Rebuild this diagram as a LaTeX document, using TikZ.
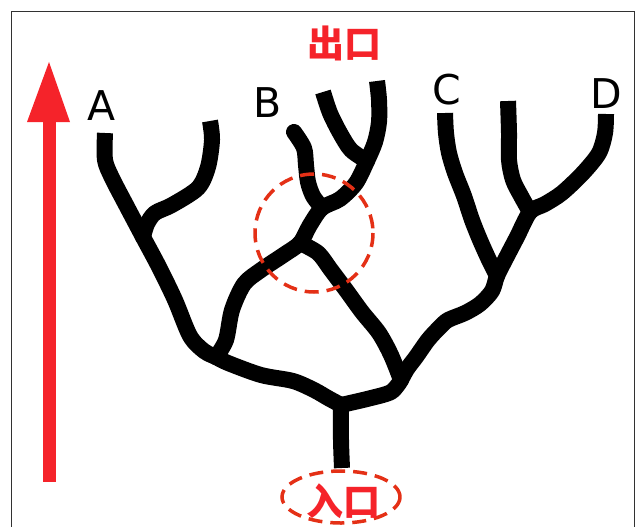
\documentclass[tikz,border=0pt]{standalone}
\usepackage{fontspec}
\setmainfont{DejaVu Sans}
\newfontfamily\cjk{Noto Sans CJK SC}
\begin{document}
\begin{tikzpicture}[x=1pt,y=-1pt,
  branch/.style={line width=16pt,line join=round,line cap=butt},
  marker/.style={draw=ringred,dashed,line width=3.5pt,dash pattern=on 14pt off 8pt},
  letter/.style={inner sep=0pt,font=\fontsize{41}{41}\selectfont},
  gate/.style={inner sep=0pt,text=arrowred,font=\cjk\bfseries\fontsize{37}{37}\selectfont}]
\definecolor{arrowred}{RGB}{245,35,42}
\definecolor{ringred}{RGB}{228,48,22}
\definecolor{framegray}{RGB}{50,50,50}
\useasboundingbox (0,0) rectangle (637,527);
% frame, open at the bottom
\draw[framegray,line width=1.6pt] (11.5,540) -- (11.5,11.5) -- (634.5,11.5) -- (634.5,540);

% upward arrow
\fill[arrowred] (43,482) rectangle (56,120);
\fill[arrowred] (49,62) -- (27,122) -- (70,122) -- cycle;

% junctions
\coordinate (root) at (342,468);
\coordinate (jc) at (341,405);
\coordinate (jl) at (216,357);
\coordinate (jr) at (401,380);
\coordinate (ja) at (143,237);
\coordinate (jx) at (300,243);
\coordinate (jb) at (322,208);
\coordinate (jt) at (367,161);
\coordinate (jd) at (530,212);
\coordinate (jcd) at (497,276);

% trunk and base
\draw[branch] plot[smooth] coordinates {(root) (341,440) (jc)};
\draw[branch] plot[smooth] coordinates {(jl) (228,363) (261,375) (293,381) (314,390) (328,398) (jc)};
\draw[branch] plot[smooth] coordinates {(jc) (367,399) (391,392) (jr)};

% left part, towards A
\draw[branch] plot[smooth] coordinates {(105,133) (105,160) (112,178) (125,203) (ja) (159,267) (175,300) (190,336) (204,351) (jl)};
\draw[branch] plot[smooth] coordinates {(210,121) (212,140) (208,167) (198,188) (172,205) (155,213) (147,224) (ja)};

% middle part, towards B and the exit
\draw[branch] plot[smooth] coordinates {(jl) (226,340) (232,310) (244,284) (261,270) (285,254) (jx) (310,225) (jb) (340,199) (356,183) (jt) (375,142) (379,122) (379,100) (377,81)};
\draw[branch] plot[smooth] coordinates {(323,92) (330,113) (340,133) (351,150) (jt)};
\draw[branch,line cap=round] plot[smooth] coordinates {(294,132) (304,148) (306,165) (308,182) (313,196) (jb)};
\draw[branch] plot[smooth] coordinates {(jx) (318,253) (331,270) (346,290) (362,312) (379,333) (391,355) (jr)};

% right part, towards C and D
\draw[branch] plot[smooth] coordinates {(445,113) (446,133) (449,153) (455,173) (464,196) (472,220) (480,240) (489,260) (jcd)};
\draw[branch] plot[smooth] coordinates {(508,101) (509,133) (509,160) (513,180) (521,196) (jd)};
\draw[branch] plot[smooth] coordinates {(606,114) (605,133) (599,153) (583,173) (562,193) (545,204) (jd) (517,237) (505,260) (jcd) (492,291) (480,304) (465,313) (448,320) (439,328) (428,340) (416,357) (407,369) (jr)};

% fill the joints where branches meet
\foreach \j in {jc,jl,jr,ja,jx,jb,jt,jd,jcd}
  \fill (\j) circle[radius=8];

% dashed markers
\draw[marker] (314,233) circle[radius=59];
\draw[marker] (341,497) ellipse[x radius=59,y radius=26];

% labels
\node[letter] (la) at (102,105.5) {A};
\node[letter] (lb) at (267.5,103) {B};
\node[letter] (lc) at (446.5,89.5) {C};
\node[letter] (ld) at (606,94) {D};
\node[gate] (exit) at (344,43.5) {出口};
\node[gate] (entry) at (343,501) {入口};
\end{tikzpicture}
\end{document}
